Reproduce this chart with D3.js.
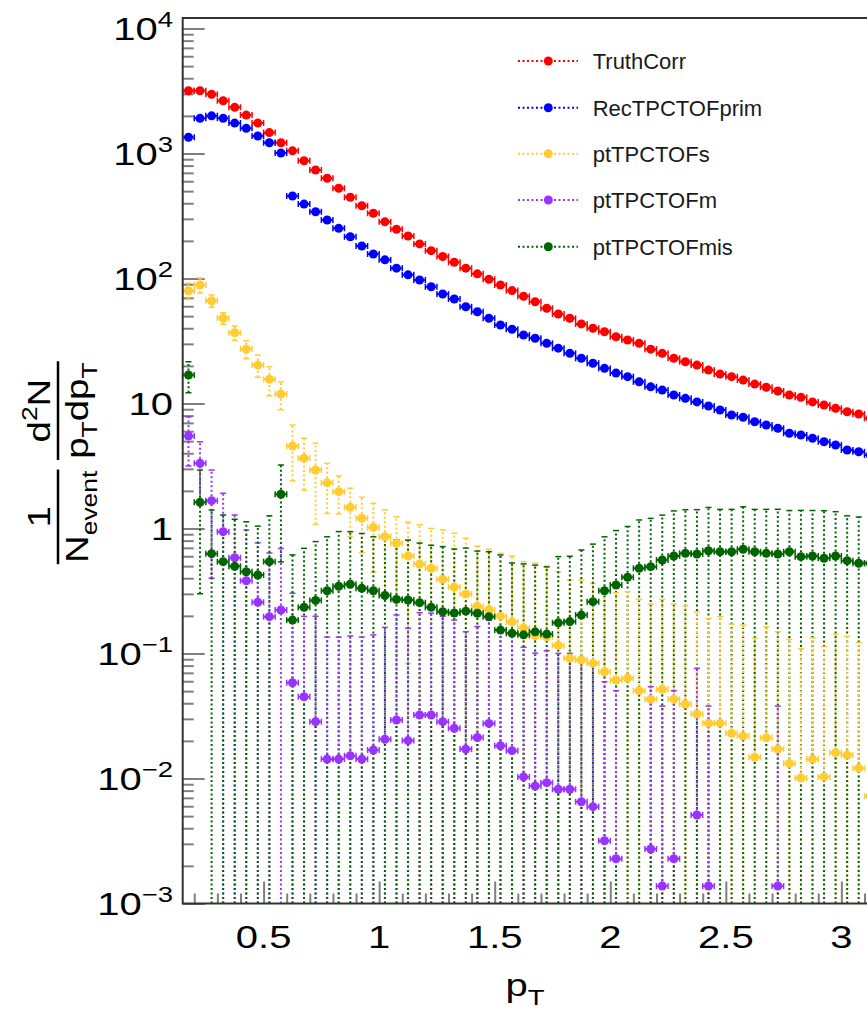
<!DOCTYPE html>
<html>
<head>
<meta charset="utf-8">
<script src="https://cdn.jsdelivr.net/npm/d3@7"></script>
<style>
  body { margin: 0; background: #fff; }
  svg { display: block; font-family: "Liberation Sans", Arial, Helvetica, sans-serif; }
</style>
</head>
<body>
<svg id="chart" width="867" height="1033"></svg>
<script>
// bin centres (pT) shared by every histogram
var pt = [0.175, 0.225, 0.275, 0.325, 0.375, 0.425, 0.475, 0.525, 0.575, 0.625,
  0.675, 0.725, 0.775, 0.825, 0.875, 0.925, 0.975, 1.025, 1.075, 1.125,
  1.175, 1.225, 1.275, 1.325, 1.375, 1.425, 1.475, 1.525, 1.575, 1.625,
  1.675, 1.725, 1.775, 1.825, 1.875, 1.925, 1.975, 2.025, 2.075, 2.125,
  2.175, 2.225, 2.275, 2.325, 2.375, 2.425, 2.475, 2.525, 2.575, 2.625,
  2.675, 2.725, 2.775, 2.825, 2.875, 2.925, 2.975, 3.025, 3.075, 3.125];
var binHalfWidth = 0.025;

var truthCorr = [3180, 3180, 2980, 2640, 2340, 2030, 1750, 1470, 1220, 1050,
  875, 738, 634, 527, 447, 382, 333, 284, 248, 219,
  189, 167, 150, 135, 121, 109, 98.6, 88.7, 80.0, 72.1,
  65.2, 57.8, 52.0, 48.1, 43.3, 40.0, 37.5, 34.2, 32.2, 30.3,
  27.2, 25.2, 23.0, 21.6, 20.3, 18.5, 17.2, 16.4, 15.4, 14.3,
  13.5, 12.6, 11.7, 11.2, 10.3, 9.73, 9.16, 8.59, 8.24, 7.62];

var recTPCTOFprim = [1350, 1910, 2000, 1910, 1750, 1590, 1380, 1220, 1010, 457,
  394, 342, 294, 252, 216, 182, 157, 141, 121, 107,
  97.3, 85.9, 75.2, 68.5, 59.4, 54.2, 48.1, 42.5, 39.3, 35.3,
  33.3, 30.3, 27.7, 25.2, 23.0, 21.0, 19.1, 17.5, 16.4, 14.9,
  13.6, 12.8, 11.7, 11.0, 10.3, 9.55, 8.87, 8.09, 7.76, 7.14,
  6.73, 6.34, 5.78, 5.60, 5.27, 4.94, 4.66, 4.25, 4.11, 3.87];

var ptTPCTOFs = [79.8, 88.7, 66.4, 48.1, 36.8, 27.3, 20.3, 15.6, 11.9, 4.57,
  3.65, 2.94, 2.32, 1.97, 1.48, 1.21, 1.02, 0.86, 0.762, 0.603,
  0.520, 0.481, 0.393, 0.340, 0.299, 0.238, 0.224, 0.199, 0.179, 0.160,
  0.139, 0.136, 0.116, 0.0916, 0.0887, 0.0835, 0.0715, 0.0614, 0.0634, 0.0504,
  0.0431, 0.0518, 0.0431, 0.0394, 0.0328, 0.0277, 0.0277, 0.0230, 0.0219, 0.0148,
  0.0212, 0.0172, 0.0132, 0.0101, 0.0143, 0.0103, 0.0161, 0.0154, 0.0121, 0.00724];
var ptTPCTOFsErr = [12, 12, 7.4, 5.1, 4.9, 4.5, 4.1, 4.1, 3.0, 2.16,
  1.62, 1.86, 1.0, 0.66, 0.62, 0.57, 0.57, 0.55, 0.48, 0.52,
  0.55, 0.52, 0.58, 0.575, 0.536, 0.486, 0.458, 0.434, 0.424, 0.383,
  0.388, 0.365, 0.335, 0.295, 0.298, 0.28, 0.232, 0.245, 0.249, 0.221,
  0.206, 0.219, 0.206, 0.201, 0.183, 0.163, 0.169, 0.149, 0.147, 0.118,
  0.142, 0.132, 0.117, 0.099, 0.119, 0.103, 0.127, 0.122, 0.110, 0.081];

var ptTPCTOFm = [5.50, 3.32, 1.67, 0.943, 0.583, 0.382, 0.257, 0.197, 0.223, 0.0584,
  0.0451, 0.0285, 0.0143, 0.0143, 0.0152, 0.0143, 0.0169, 0.0206, 0.0294, 0.0201,
  0.0322, 0.0322, 0.0285, 0.0252, 0.0172, 0.0213, 0.0276, 0.0183, 0.0167, 0.0103,
  0.00871, 0.00926, 0.00820, 0.00820, 0.00652, 0.00595, 0.00318, 0.00228, null, null,
  0.00273, 0.00138, 0.00228, null, 0.00511, 0.00138, null, null, null, null,
  null, 0.00138, null, null, null, null, null, null, null, null];
var ptTPCTOFmErr = [2.34, 1.63, 1.27, 0.97, 0.70, 0.59, 0.51, 0.44, 0.47, 0.245,
  0.153, 0.170, 0.121, 0.121, 0.123, 0.121, 0.124, 0.141, 0.174, 0.139,
  0.180, 0.178, 0.170, 0.160, 0.132, 0.143, 0.157, 0.131, 0.132, 0.102,
  0.092, 0.096, 0.092, 0.092, 0.0795, 0.0775, 0.0563, 0.0481, null, null,
  0.0515, 0.0366, 0.0481, null, 0.071, 0.0366, null, null, null, null,
  null, 0.0366, null, null, null, null, null, null, null, null];

var ptTPCTOFmis = [16.9, 1.62, 0.629, 0.543, 0.498, 0.451, 0.425, 0.543, 1.88, 0.185,
  0.234, 0.266, 0.318, 0.345, 0.358, 0.332, 0.318, 0.291, 0.271, 0.268,
  0.255, 0.234, 0.216, 0.211, 0.218, 0.210, 0.197, 0.154, 0.145, 0.141,
  0.149, 0.143, 0.176, 0.180, 0.203, 0.260, 0.318, 0.353, 0.407, 0.480,
  0.495, 0.560, 0.603, 0.633, 0.625, 0.664, 0.652, 0.652, 0.682, 0.652,
  0.633, 0.625, 0.652, 0.595, 0.603, 0.578, 0.603, 0.553, 0.527, 0.527];
var ptTPCTOFmisErr = [4.7, 1.32, 0.78, 0.74, 0.69, 0.68, 0.62, 0.72, 1.34, 0.43,
  0.46, 0.52, 0.54, 0.60, 0.585, 0.58, 0.54, 0.57, 0.54, 0.54,
  0.51, 0.50, 0.50, 0.475, 0.48, 0.45, 0.455, 0.46, 0.385, 0.38,
  0.36, 0.35, 0.42, 0.42, 0.47, 0.49, 0.54, 0.61, 0.63, 0.69,
  0.71, 0.72, 0.78, 0.78, 0.79, 0.81, 0.77, 0.77, 0.81, 0.77,
  0.79, 0.80, 0.74, 0.80, 0.79, 0.81, 0.76, 0.71, 0.71, 0.73];

var seriesNames = ["TruthCorr", "RecTPCTOFprim", "ptTPCTOFs", "ptTPCTOFm", "ptTPCTOFmis"];
var seriesColors = ["#ff0000", "#0000ff", "#ffcc33", "#9933ff", "#006400"];

var xTickValues = [0.5, 1, 1.5, 2, 2.5, 3];
var xTickLabels = ["0.5", "1", "1.5", "2", "2.5", "3"];
var yTickValues = [1e-3, 1e-2, 1e-1, 1, 10, 100, 1000, 10000];
var yTickLabels = [["10", "\u22123"], ["10", "\u22122"], ["10", "\u22121"], ["1", ""],
  ["10", ""], ["10", "2"], ["10", "3"], ["10", "4"]];

var series = [
  {values: truthCorr, errors: null},
  {values: recTPCTOFprim, errors: null},
  {values: ptTPCTOFs, errors: ptTPCTOFsErr},
  {values: ptTPCTOFm, errors: ptTPCTOFmErr},
  {values: ptTPCTOFmis, errors: ptTPCTOFmisErr}
].map(function(s, i) {
  s.name = seriesNames[i];
  s.color = seriesColors[i];
  s.points = pt.map(function(p, j) {
    return {x: p, v: s.values[j], e: s.errors ? s.errors[j] : null};
  }).filter(function(d) { return d.v != null; });
  return s;
});

// frame
var frame = {left: 182.7, top: 18, bottom: 903.5, right: 887.6};
var yMin = 1e-3, yMax = Math.pow(10, 4.084);

var x = d3.scaleLinear().domain([0.15, 3.2]).range([frame.left, frame.right]);
var y = d3.scaleLog().domain([yMin, yMax]).range([frame.bottom, frame.top]);

var svg = d3.select("#chart");
svg.append("rect").attr("width", 867).attr("height", 1033).attr("fill", "#fff");

svg.append("defs").append("clipPath").attr("id", "plotclip")
  .append("rect")
  .attr("x", frame.left).attr("y", frame.top)
  .attr("width", frame.right - frame.left).attr("height", frame.bottom - frame.top);

// ticks (inside the frame, ROOT style)
var xMinor = d3.range(2, 32).map(function(k) { return k / 10; })
  .filter(function(v) { return Math.abs(v * 2 - Math.round(v * 2)) > 1e-6; });
var yMinor = [];
for (var d = -3; d < 4; d++) {
  for (var m = 2; m < 10; m++) yMinor.push(m * Math.pow(10, d));
}

function styleTicks(g) {
  g.select(".domain").remove();
  g.selectAll(".tick line").attr("stroke", "#7f7f7f").attr("stroke-width", 2);
  g.selectAll(".tick text").remove();
}

svg.append("g").attr("transform", "translate(0," + frame.bottom + ")")
  .call(d3.axisBottom(x).tickValues(xMinor).tickSize(-10).tickSizeOuter(0))
  .call(styleTicks);
svg.append("g").attr("transform", "translate(0," + frame.bottom + ")")
  .call(d3.axisBottom(x).tickValues(xTickValues).tickSize(-22).tickSizeOuter(0))
  .call(styleTicks);
svg.append("g").attr("transform", "translate(" + frame.left + ",0)")
  .call(d3.axisLeft(y).tickValues(yMinor).tickSize(-11).tickSizeOuter(0))
  .call(styleTicks);
svg.append("g").attr("transform", "translate(" + frame.left + ",0)")
  .call(d3.axisLeft(y).tickValues(yTickValues).tickSize(-22).tickSizeOuter(0))
  .call(styleTicks);

// data
var plot = svg.append("g").attr("clip-path", "url(#plotclip)");
var dots = "2,2.5";
var capHalf = 3;

function lowerEnd(d) {
  var lo = d.v - d.e;
  return lo > yMin ? y(lo) : frame.bottom;
}

// lower halves of the vertical error bars, drawn from below so the dots line up
series.forEach(function(s) {
  var pts = s.points.filter(function(d) { return d.e != null; });
  var g = plot.append("g").attr("stroke", s.color).attr("fill", "none");
  g.selectAll("path").data(pts).enter().append("path")
    .attr("d", function(d) { return "M" + x(d.x) + "," + lowerEnd(d) + "V" + y(d.v); })
    .attr("stroke-width", 2).attr("stroke-dasharray", dots);
  g.selectAll("line.cap").data(pts.filter(function(d) { return d.v - d.e > yMin; }))
    .enter().append("line").attr("class", "cap")
    .attr("x1", function(d) { return x(d.x) - capHalf; })
    .attr("x2", function(d) { return x(d.x) + capHalf; })
    .attr("y1", function(d) { return y(d.v - d.e); })
    .attr("y2", function(d) { return y(d.v - d.e); })
    .attr("stroke-width", 1.5);
});

// upper halves
series.forEach(function(s) {
  var pts = s.points.filter(function(d) { return d.e != null; });
  var g = plot.append("g").attr("stroke", s.color).attr("fill", "none");
  g.selectAll("path").data(pts).enter().append("path")
    .attr("d", function(d) { return "M" + x(d.x) + "," + y(d.v) + "V" + y(d.v + d.e); })
    .attr("stroke-width", 2).attr("stroke-dasharray", dots);
  g.selectAll("line.cap").data(pts).enter().append("line").attr("class", "cap")
    .attr("x1", function(d) { return x(d.x) - capHalf; })
    .attr("x2", function(d) { return x(d.x) + capHalf; })
    .attr("y1", function(d) { return y(d.v + d.e); })
    .attr("y2", function(d) { return y(d.v + d.e); })
    .attr("stroke-width", 1.5);
});

// horizontal (bin width) bars and markers
series.forEach(function(s) {
  var g = plot.append("g").attr("stroke", s.color).attr("fill", "none");
  g.selectAll("path").data(s.points).enter().append("path")
    .attr("d", function(d) {
      return "M" + x(d.x - binHalfWidth) + "," + y(d.v) + "H" + x(d.x + binHalfWidth);
    })
    .attr("stroke-width", 2).attr("stroke-dasharray", dots);
  ["-", "+"].forEach(function(side) {
    g.selectAll("line.c" + (side === "-" ? "l" : "r")).data(s.points).enter().append("line")
      .attr("x1", function(d) { return x(side === "-" ? d.x - binHalfWidth : d.x + binHalfWidth); })
      .attr("x2", function(d) { return x(side === "-" ? d.x - binHalfWidth : d.x + binHalfWidth); })
      .attr("y1", function(d) { return y(d.v) - capHalf; })
      .attr("y2", function(d) { return y(d.v) + capHalf; })
      .attr("stroke-width", 1.5);
  });
});
series.forEach(function(s) {
  plot.append("g").attr("fill", s.color)
    .selectAll("circle").data(s.points).enter().append("circle")
    .attr("cx", function(d) { return x(d.x); })
    .attr("cy", function(d) { return y(d.v); })
    .attr("r", 4.5);
});

// frame lines
svg.append("path")
  .attr("d", "M867," + frame.top + "H" + frame.left + "V" + frame.bottom + "H867")
  .attr("fill", "none").attr("stroke", "#333").attr("stroke-width", 2);

// tick labels (ROOT draws them wide)
yTickValues.forEach(function(v, i) {
  var t = svg.append("text")
    .attr("transform", "translate(173," + (y(v) + 11.5) + ") scale(1.25,1)")
    .attr("text-anchor", "end").style("font-size", "32px").attr("fill", "#000");
  t.append("tspan").text(yTickLabels[i][0]);
  if (yTickLabels[i][1]) {
    t.append("tspan").attr("dy", -13).style("font-size", "22px").text(yTickLabels[i][1]);
  }
});
xTickValues.forEach(function(v, i) {
  svg.append("text")
    .attr("transform", "translate(" + x(v) + ",948.3) scale(1.25,1)")
    .attr("text-anchor", "middle").style("font-size", "32px")
    .text(xTickLabels[i]);
});

// axis titles
var xt = svg.append("text")
  .attr("transform", "translate(525,996) scale(1.25,1)")
  .attr("text-anchor", "middle").style("font-size", "32px");
xt.append("tspan").text("p");
xt.append("tspan").attr("dy", 9).style("font-size", "22px").text("T");

var yt = svg.append("g").attr("transform", "translate(0,563) rotate(-90) scale(1.2,1)");
var den1 = yt.append("text").attr("x", 0).attr("y", 88).style("font-size", "32px");
den1.append("tspan").text("N");
den1.append("tspan").attr("dy", 9).style("font-size", "22px").text("event");
var w1 = den1.node().getComputedTextLength();
yt.append("line").attr("x1", -1).attr("x2", w1 + 1).attr("y1", 58).attr("y2", 58)
  .attr("stroke", "#000").attr("stroke-width", 2.5);
yt.append("text").attr("x", w1 / 2).attr("y", 50).attr("text-anchor", "middle")
  .style("font-size", "32px").text("1");

var u0 = w1 + 10;
var den2 = yt.append("text").attr("x", u0).attr("y", 88).style("font-size", "32px");
den2.append("tspan").text("p");
den2.append("tspan").attr("dy", 9).style("font-size", "22px").text("T");
den2.append("tspan").attr("dy", -9).text("dp");
den2.append("tspan").attr("dy", 9).style("font-size", "22px").text("T");
var w2 = den2.node().getComputedTextLength();
yt.append("line").attr("x1", u0 - 1).attr("x2", u0 + w2 + 1).attr("y1", 58).attr("y2", 58)
  .attr("stroke", "#000").attr("stroke-width", 2.5);
var num2 = yt.append("text").attr("x", u0 + w2 / 2).attr("y", 50)
  .attr("text-anchor", "middle").style("font-size", "32px");
num2.append("tspan").text("d");
num2.append("tspan").attr("dy", -13).style("font-size", "22px").text("2");
num2.append("tspan").attr("dy", 13).text("N");

// legend
var legendRows = [61, 107.7, 153.7, 200, 246.7];
var legend = svg.append("g");
seriesNames.forEach(function(name, i) {
  var row = legend.append("g").attr("transform", "translate(0," + legendRows[i] + ")");
  row.append("line").attr("x1", 518).attr("x2", 578).attr("y1", 0).attr("y2", 0)
    .attr("stroke", seriesColors[i]).attr("stroke-width", 2).attr("stroke-dasharray", dots);
  row.append("circle").attr("cx", 548.3).attr("cy", 0).attr("r", 4.5).attr("fill", seriesColors[i]);
  row.append("text").attr("x", 592.7).attr("y", 8).style("font-size", "22px")
    .attr("fill", "#1a1a1a").text(name);
});
</script>
</body>
</html>
